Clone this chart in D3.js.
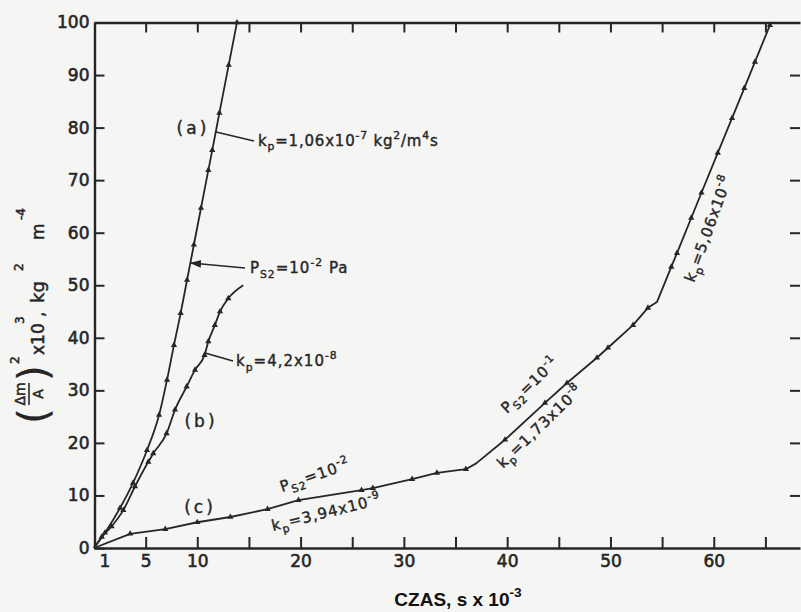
<!DOCTYPE html>
<html>
<head>
<meta charset="utf-8">
<script src="https://cdn.jsdelivr.net/npm/d3@7"></script>
<style>
  body { margin: 0; background: #f5f5f4; }
  svg { display: block; }
  text { white-space: pre; }
</style>
</head>
<body>
<svg id="chart" width="801" height="612"></svg>
<script>
// czas (s x 10^-3), (dm/A)^2 x 10^3 ; third value = 1 where a measured point is marked
var seriesA = [[0,0,0],[1.06,2.9,1],[2.52,7.6,1],[3.78,12.4,1],[5.13,18.6,1],[6.3,25.3,1],[7.07,32,1],
  [7.74,38.6,1],[8.39,44.7,1],[9.01,51.0,1],[9.67,57.7,1],[10.36,64.7,1],[11.07,71.9,1],
  [11.45,75.7,1],[12.14,82.8,1],[13.04,91.9,1],[13.84,100,1]];
var seriesB = [[0,0,0],[0.75,2.1,1],[1.7,4.1,1],[2.84,7.2,1],[3.97,11.7,1],[5.26,16.4,1],[5.74,18.0,1],
  [7.03,21.8,1],[7.84,26.3,1],[8.97,30.7,1],[9.78,33.9,1],[10.7,36.7,1],[11.07,39.3,1],
  [11.7,42.4,1],[12.2,45.0,1],[13.0,47.5,1],[14.45,50.0,0]];
var seriesC = [[0,0,0],[3.5,2.7,1],[6.9,3.6,1],[10.0,4.9,1],[13.2,5.9,1],[16.8,7.4,1],[19.8,9.1,1],
  [25.9,11.0,1],[27.0,11.4,1],[30.8,13.1,1],[33.2,14.3,1],[36.0,15.0,1],[37.0,16.1,0],
  [39.79,20.6,1],[43.66,27.6,1],[45.79,31.4,1],[48.69,36.2,1],[49.76,38.1,1],[52.18,42.4,1],
  [53.63,45.7,1],[54.5,46.8,0],[55.89,53.5,1],[56.44,56.1,1],[57.82,62.8,1],[58.81,67.6,1],
  [60.39,75.2,1],[61.77,81.8,1],[62.96,87.5,1],[63.99,92.5,1],[65.44,99.5,1]];

var xTicks = [5,10,15,20,25,30,35,40,45,50,55,60,65];
var xTickLabels = [1,5,10,20,30,40,50,60];
var yTicks = [0,10,20,30,40,50,60,70,80,90,100];
var yInnerTicks = [10,20,30,40,50,60,70,80,90];

var ink = "#262626";
var font = "DejaVu Sans, sans-serif";

var svg = d3.select("#chart");
svg.append("rect").attr("width",801).attr("height",612).attr("fill","#f5f5f4");

var x = d3.scaleLinear().domain([0, 68.35]).range([94, 800]);
var y = d3.scaleLinear().domain([0, 100]).range([548, 22.5]);

svg.append("defs").append("marker")
  .attr("id","arr").attr("viewBox","0 0 10 10").attr("refX",9).attr("refY",5)
  .attr("markerWidth",7).attr("markerHeight",7).attr("orient","auto-start-reverse")
  .append("path").attr("d","M0,1.5L10,5L0,8.5z").attr("fill",ink);

function styleAxis(g){
  g.selectAll("path.domain").attr("stroke",ink).attr("stroke-width",2.4);
  g.selectAll(".tick line").attr("stroke",ink).attr("stroke-width",2);
  g.selectAll("text").attr("fill",ink).attr("font-family",font).attr("font-size",17)
    .attr("stroke",ink).attr("stroke-width",0.6);
}

// frame & ticks
var gb = svg.append("g").attr("transform","translate(0,548)")
  .call(d3.axisBottom(x).tickValues(xTicks).tickSize(-11).tickSizeOuter(0).tickFormat(""));
styleAxis(gb);
var gbl = svg.append("g").attr("transform","translate(0,548)")
  .call(d3.axisBottom(x).tickValues(xTickLabels).tickSize(0).tickPadding(7).tickFormat(d3.format("d")));
gbl.select("path.domain").remove();
styleAxis(gbl);

var gt = svg.append("g").attr("transform","translate(0,22.5)")
  .call(d3.axisTop(x).tickValues(xTicks).tickSize(-10).tickSizeOuter(0).tickFormat(""));
styleAxis(gt);

var gl = svg.append("g").attr("transform","translate(94.5,0)")
  .call(d3.axisLeft(y).tickValues(yTicks).tickSize(-10).tickSizeOuter(0).tickPadding(5).tickFormat(d3.format("d")));
styleAxis(gl);

var gr = svg.append("g").attr("transform","translate(800,0)")
  .call(d3.axisRight(y).tickValues(yInnerTicks).tickSize(-10).tickFormat(""));
gr.select("path.domain").remove();
styleAxis(gr);

// curves
var smooth = d3.line().x(function(d){return x(d[0]);}).y(function(d){return y(d[1]);}).curve(d3.curveMonotoneX);
var straight = d3.line().x(function(d){return x(d[0]);}).y(function(d){return y(d[1]);});

[[seriesA, smooth],[seriesB, smooth],[seriesC, straight]].forEach(function(s){
  svg.append("path").datum(s[0]).attr("d", s[1]).attr("fill","none")
    .attr("stroke",ink).attr("stroke-width",1.8).attr("stroke-linejoin","round");
  svg.append("g").selectAll("path").data(s[0].filter(function(d){return d[2];}))
    .enter().append("path")
    .attr("d", d3.symbol().type(d3.symbolTriangle).size(17))
    .attr("transform", function(d){return "translate(" + x(d[0]) + "," + y(d[1]) + ")";})
    .attr("fill", ink);
});

// annotations
function rich(text, parts, fs){
  var shift = 0;
  parts.forEach(function(p){
    var k = p[1] || "n";
    var off = k == "sup" ? -0.45*fs : (k == "sub" ? 0.3*fs : 0);
    text.append("tspan").attr("dy", off - shift).attr("font-size", k == "n" ? fs : fs*0.72).text(p[0]);
    shift = off;
  });
}

var notes = [
  {t:9.58, v:78.8, a:0, fs:17, ls:3, anchor:"middle", parts:[["(a)"]]},
  {t:10.36, v:23.0, a:0, fs:17, ls:3, anchor:"middle", parts:[["(b)"]]},
  {t:10.26, v:6.66, a:0, fs:17, ls:3, anchor:"middle", parts:[["(c)"]]},
  {t:15.88, v:76.5, a:0, fs:15, ls:0.8, parts:[["k"],["p","sub"],["=1,06x10"],["-7","sup"],[" kg"],["2","sup"],["/m"],["4","sup"],["s"]]},
  {t:15.1, v:52.33, a:0, fs:15, ls:1, parts:[["P"],["S2","sub"],["=10"],["-2","sup"],[" Pa"]]},
  {t:13.75, v:34.63, a:0, fs:15, ls:1, parts:[["k"],["p","sub"],["=4,2x10"],["-8","sup"]]},
  {t:18.2, v:10.66, a:-19, fs:15, ls:1, parts:[["P"],["S2","sub"],["=10"],["-2","sup"]]},
  {t:17.33, v:3.23, a:-14, fs:15, ls:1, parts:[["k"],["p","sub"],["=3,94x10"],["-9","sup"]]},
  {t:39.98, v:25.5, a:-44, fs:15, ls:1, parts:[["P"],["S2","sub"],["=10"],["-1","sup"]]},
  {t:39.59, v:15.03, a:-44, fs:15, ls:1, parts:[["k"],["p","sub"],["=1,73x10"],["-8","sup"]]},
  {t:58.08, v:50.43, a:-70, fs:15, ls:1, parts:[["k"],["p","sub"],["=5,06x10"],["-8","sup"]]}
];

notes.forEach(function(n){
  var t = svg.append("text")
    .attr("transform","translate(" + x(n.t) + "," + y(n.v) + ") rotate(" + n.a + ")")
    .attr("font-family",font).attr("fill",ink).attr("letter-spacing",n.ls)
    .attr("stroke",ink).attr("stroke-width",0.4)
    .attr("text-anchor", n.anchor || "start");
  rich(t, n.parts, n.fs);
});

// leader lines [from t, v, to t, v, arrow]
var leaders = [
  [11.71,79.2,15.49,77.45,0],
  [14.62,53.28,9.39,54.23,1],
  [13.46,35.58,10.75,37.1,0]
];
svg.append("g").selectAll("line").data(leaders).enter().append("line")
  .attr("x1",function(d){return x(d[0]);}).attr("y1",function(d){return y(d[1]);})
  .attr("x2",function(d){return x(d[2]);}).attr("y2",function(d){return y(d[3]);})
  .attr("stroke",ink).attr("stroke-width",1.6)
  .attr("marker-end",function(d){return d[4] ? "url(#arr)" : null;});

// y axis title
var yl = svg.append("g").attr("transform","translate(44,427) rotate(-90)")
  .attr("fill",ink).attr("font-family",font).attr("stroke",ink).attr("stroke-width",0.5);
yl.append("text").attr("x",3).attr("y",3).attr("font-size",40).attr("stroke-width",0.3).text("(");
yl.append("text").attr("x",33).attr("y",-19).attr("font-size",14).attr("text-anchor","middle").text("Δm");
yl.append("line").attr("x1",22).attr("x2",44).attr("y1",-15).attr("y2",-15).attr("stroke-width",1.6);
yl.append("text").attr("x",33).attr("y",-1).attr("font-size",14).attr("text-anchor","middle").text("A");
yl.append("text").attr("x",46).attr("y",3).attr("font-size",40).attr("stroke-width",0.3).text(")");
yl.append("text").attr("x",63).attr("y",-25).attr("font-size",12).text("2");
yl.append("text").attr("x",72).attr("y",0).attr("font-size",17).text("x10");
yl.append("text").attr("x",103).attr("y",-20).attr("font-size",12).text("3");
yl.append("text").attr("x",110).attr("y",0).attr("font-size",17).text(",");
yl.append("text").attr("x",124).attr("y",0).attr("font-size",18).text("kg");
yl.append("text").attr("x",156).attr("y",-21).attr("font-size",12).text("2");
yl.append("text").attr("x",187).attr("y",0).attr("font-size",17).text("m");
yl.append("text").attr("x",207).attr("y",-19).attr("font-size",12).text("-4");

// x axis title
var xt = svg.append("text").attr("x",458).attr("y",606).attr("text-anchor","middle")
  .attr("font-family","Liberation Sans, Arial, sans-serif").attr("font-weight","bold").attr("fill","#111");
rich(xt, [["CZAS, s x 10"],["-3","sup"]], 19);
</script>
</body>
</html>
